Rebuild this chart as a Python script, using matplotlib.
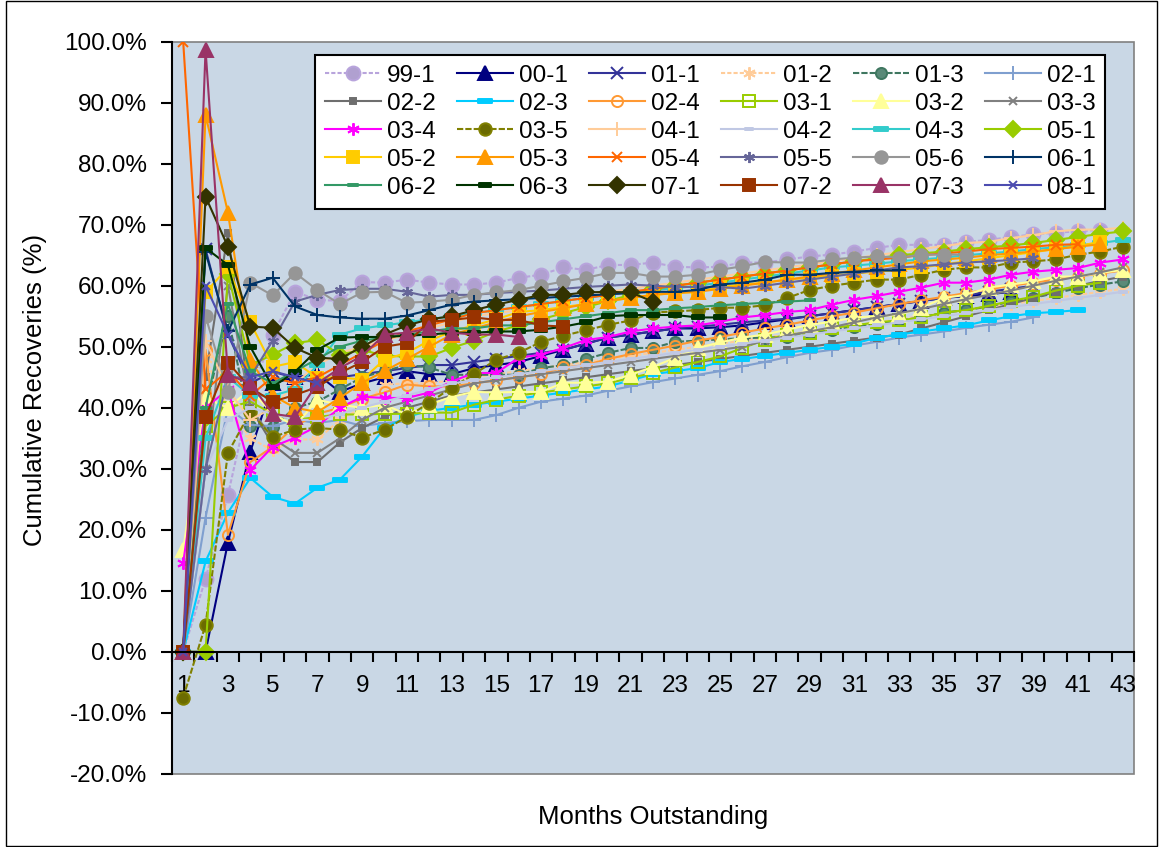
import numpy as np
import matplotlib
matplotlib.use('Agg')
import matplotlib.pyplot as plt
import matplotlib.patches as mpatches
from matplotlib.path import Path
from matplotlib.ticker import FuncFormatter

plt.rcParams['font.family'] = ['Liberation Sans', 'DejaVu Sans']

# cumulative recoveries (%) by months outstanding, one list per deal
labels = ['99-1', '00-1', '01-1', '01-2', '01-3', '02-1', '02-2', '02-3', '02-4', '03-1',
          '03-2', '03-3', '03-4', '03-5', '04-1', '04-2', '04-3', '05-1', '05-2', '05-3',
          '05-4', '05-5', '05-6', '06-1', '06-2', '06-3', '07-1', '07-2', '07-3', '08-1']

s99_1 = [0, 12, 25.7, 42, 52, 59, 57.7, 57.5, 60.6, 60.5, 61, 60.5, 60.2, 60.2, 60.5, 61.3, 61.8, 63, 62.6, 63.4,
         63.4, 63.8, 63.1, 63, 63.1, 63.8, 63.8, 64.3, 64.8, 65.1, 65.6, 66.2, 66.7, 66.7, 66.7, 67.2, 67.5, 68,
         68.4, 68.7, 68.9, 69.2]
s00_1 = [0, 0, 17.9, 32.8, 44, 45, 45.5, 42.6, 44, 45, 46, 45.5, 45.5, 46.5, 47, 47.5, 48.5, 49.5, 50.5, 51.5,
         52, 52.5, 53, 53, 53.2, 53.5, 54, 54.5, 55, 55.5, 56, 56.5, 57, 57.5, 58, 58.3, 58.6, 59]
s01_1 = [0, 66, 52, 44, 45.9, 44.9, 44.5, 45, 45.5, 46, 46.5, 47, 47, 47.5, 48, 48.5, 49, 49.5, 50.5, 51.5,
         52, 52.5, 53, 53.3, 53.6, 54, 54.3, 54.6, 55, 55.5, 56, 56.5, 57, 57.5, 58, 58.5, 59, 59.5, 60]
s01_2 = [0, 48, 40, 35, 33, 34.8, 34.8, 38, 40, 43.8, 44, 44, 44.5, 45, 45.5, 46, 46.5, 47, 47.5, 48,
         48.5, 49, 49.5, 50, 50.5, 51, 51.5, 52, 52.5, 53, 53.5, 54, 54.5, 55, 55.5, 56, 56.5, 57, 57.5, 58,
         58.5, 59, 59.5]
s01_3 = [0, 40, 55, 37, 36.9, 40, 41, 43, 45, 46, 47, 46.6, 45.4, 45.4, 45.4, 45.4, 46.5, 47, 48, 49,
         49.8, 49.8, 50.8, 51, 51.2, 51.4, 51.5, 51.6, 52.3, 52.8, 53.3, 53.8, 54.3, 54.8, 55.6, 56, 56.6, 57.4,
         58, 58.8, 59.6, 60.2, 60.7]
s02_1 = [0, 22, 40, 37.2, 37, 38, 37.5, 38, 37, 37.5, 37.8, 38, 38, 38, 38.8, 40, 41, 41.5, 42, 42.8,
         43.5, 44.2, 44.8, 45.4, 46, 46.8, 47.5, 48.3, 49, 49.5, 50.2, 50.8, 51.5, 52, 52.5, 53.1, 53.6, 54.1, 54.8]
s02_2 = [0, 45, 68.7, 40, 34, 31.1, 31.1, 34.3, 36.7, 38.5, 40, 41, 42, 42.5, 43, 43.5, 44, 44.5, 45, 45.5,
         46, 46.5, 47, 47.5, 48, 48.5, 49, 49.5, 50, 50.5, 51, 51.5, 52, 53, 54, 55, 56, 57, 58, 59,
         60, 60.8, 61.5]
s02_3 = [0, 14.8, 22.8, 28.5, 25.4, 24.3, 26.9, 28.2, 32, 36.7, 38.5, 39.5, 40, 40.5, 41, 41.5, 42, 42.5, 43, 43.5,
         44.5, 45.5, 46, 46.5, 47.5, 48, 48.5, 49, 49.5, 50, 50.5, 51.5, 52, 52.5, 53, 53.5, 54.3, 55, 55.5, 55.7, 56]
s02_4 = [0, 49.5, 19.2, 31.1, 33.6, 37, 39, 40, 41.5, 42.5, 43.8, 43.5, 43.5, 44, 44.5, 45, 45.5, 46.6, 47, 48,
         48.8, 49.5, 50.2, 51, 51.6, 52.3, 53, 53.6, 54.3, 55, 55.6, 56.3, 57, 57.6, 58.2, 58.8, 59.4, 60, 60.5, 61,
         61.5, 62, 62.5]
s03_1 = [0, 37, 40, 41, 39, 38, 38.5, 38.9, 38.9, 39, 39, 39.2, 39.2, 40.5, 41.3, 42, 42.5, 43, 43.5, 44,
         44.9, 45.7, 46.6, 47.5, 48.4, 49.8, 51.1, 52, 52.3, 53.1, 53.5, 54, 54.3, 54.8, 55.6, 56, 56.7, 57.5,
         58.2, 59.2, 60, 60.5]
s03_2 = [16.7, 41.6, 40, 43, 39, 37, 41.3, 40.5, 40, 40.5, 38.9, 40.5, 41.8, 42.6, 42.5, 42.6, 42.6, 44.1, 44.1, 44.3,
         45.4, 46.7, 48.2, 49.8, 50.7, 51.5, 52, 52.8, 53.6, 54.1, 54.8, 55, 55.2, 56.4, 58, 58.5, 59.7, 60.2,
         60.7, 61.5, 61.5, 62.1, 62.6]
s03_3 = [0, 30, 60, 40, 35, 32.6, 32.6, 35, 38, 40, 41, 42, 43, 44, 44.5, 45, 45.5, 46, 46.5, 47,
         47.5, 48, 48.5, 49, 49.5, 50, 51, 51.8, 52.5, 53.2, 54, 54.8, 55.5, 56.2, 57, 57.8, 58.5, 59.2, 60, 60.8,
         61.5, 62.2, 63]
s03_4 = [14.6, 40, 43, 29.8, 33.6, 35.1, 37, 40, 41.8, 41.6, 41.6, 42.5, 44.3, 45.7, 45.7, 48.2, 48.7, 49.8, 51.1, 51.6,
         52.5, 53, 53.3, 53.5, 54.1, 54.8, 55.2, 55.7, 56, 56.9, 57.7, 58.3, 59, 59.7, 60.5, 60.5, 61, 61.8,
         62.3, 62.6, 62.9, 63.8, 64.3]
s03_5 = [-7.5, 4.4, 32.6, 39.3, 35.2, 36.4, 36.7, 36.4, 35.1, 36.4, 38.5, 40.8, 43.3, 45.5, 47.9, 49, 50.8, 51.8, 52.7, 53.6,
         54.3, 55.6, 55.8, 56, 56.4, 56.4, 56.8, 58, 59.3, 60, 60.5, 61, 61, 61.8, 62.6, 63, 63, 63.8, 64, 64.3,
         65.1, 65.6, 66.4]
s04_1 = [0, 51, 43, 38, 40, 44, 47, 49, 50, 51, 52, 53, 54, 55, 55.5, 56, 57, 57.5, 58, 59,
         59.5, 60, 60.5, 61, 61.5, 62, 62.5, 63, 63.5, 64, 64.5, 65, 65.5, 66, 66.5, 67, 67.2, 67.8, 68.3, 68.9,
         69.2, 69.2, 69.5]
s04_2 = [0, 30, 38, 40, 39, 38, 38, 39, 40, 41, 42, 43, 44, 44.5, 45, 45.5, 46, 46.5, 47, 47.5,
         48, 48.5, 49, 49.5, 50, 50.5, 51, 51.5, 52, 52.5, 53, 53.5, 54, 54.5, 55, 55.5, 56, 56.5, 57, 57.5,
         58, 58.5, 59]
s04_3 = [0, 35, 45, 42, 42, 43, 47, 52, 53, 53.5, 54, 54.5, 55, 55.5, 56, 56.5, 57, 57.5, 58, 58.5,
         59, 59.3, 59.6, 60, 60.5, 61, 61.5, 62, 62.5, 63, 63.3, 63.6, 64, 64.3, 64.6, 65, 65.3, 65.6, 66, 66.3,
         66.6, 67, 67.5]
s05_1 = [0, 0, 62, 47, 48.7, 50.6, 51.1, 48.7, 49.5, 48.5, 48.4, 48.4, 49.8, 51, 52.5, 53.5, 54.5, 55.5, 56.5, 57.5,
         58.5, 59.5, 60, 60.5, 61, 61.5, 62, 62.5, 63, 63.5, 64, 64.5, 65, 65.3, 65.6, 66, 66.3, 66.6, 67, 67.5,
         68, 68.5, 68.9]
s05_2 = [0, 58.9, 63, 54, 46.7, 47.5, 44.9, 45, 44.6, 47.9, 49, 51, 52.5, 53.5, 54.5, 55.7, 56, 56.5, 57, 57.5,
         58, 58.5, 58.8, 59, 59.8, 60.2, 60.5, 61, 61.3, 61.6, 62, 62.3, 62.6, 63, 63.5, 64, 64.5, 65, 65.5, 66,
         66.5, 67.2]
s05_3 = [0, 88, 72, 47.9, 42, 40, 39.3, 41.6, 44.1, 46, 48, 50, 52, 53, 54, 55, 55.7, 56.3, 57, 57.5,
         58, 58.5, 58.8, 59, 59.5, 60, 60.5, 61, 61.5, 62, 62.5, 63, 63.5, 64, 64.3, 64.6, 65, 65.3, 65.6, 66,
         66.4, 66.8]
s05_4 = [100, 43, 46, 42, 45, 44, 45, 47, 49, 51, 52.5, 53.5, 54.5, 55.5, 56, 56.5, 57, 57.5, 58, 58.5,
         59, 59.5, 60, 60.5, 61, 61.5, 62, 62.5, 63, 63.5, 64, 64.3, 64.6, 65, 65.3, 65.6, 66, 66.2, 66.4, 66.7,
         66.8]
s05_5 = [0, 30, 45, 45, 51, 57.4, 58.5, 59.3, 59.5, 59.5, 59, 58.2, 58.5, 58.5, 58.8, 59, 59.2, 59.5, 59.8, 60,
         60.2, 60, 59.8, 59.8, 59.8, 59.5, 60, 60.5, 61, 61.5, 62, 62.5, 63, 63.2, 63.5, 63.8, 64, 64.2, 64.5]
s05_6 = [0, 55, 42.6, 60.5, 58.4, 62.1, 59.3, 57, 58.9, 59, 57.2, 57.4, 57.7, 58.5, 58.9, 59.3, 60, 60.7, 61.3, 62.1,
         62.1, 61.5, 61.5, 61.8, 62.6, 63.2, 63.9, 63.8, 63.8, 64.3, 64.6, 64.8, 64.6, 65.1, 65.1, 65.1]
s06_1 = [0, 65.5, 52.5, 60.2, 61.3, 56.6, 55.2, 54.8, 54.6, 54.6, 55.1, 56, 56.9, 57.4, 57.6, 57.8, 58, 58.2, 58.4, 58.6,
         58.8, 59, 59, 59.3, 60.2, 60.5, 61, 61.8, 61.8, 62.1, 62.3, 62.5, 62.5]
s06_2 = [0, 40, 57, 46, 44, 46, 48, 50, 51, 51.5, 52, 52.5, 53, 53, 53.5, 53.5, 54, 54.5, 55, 55.5,
         56, 56, 56.3, 56.5, 56.8, 57, 57.2, 57.4, 57.6]
s06_3 = [0, 66.2, 63.4, 50, 43.4, 45.9, 49.5, 51.5, 51.6, 51.6, 51.8, 52, 52.3, 52.3, 52.5, 52.5, 52.8, 53.3, 54, 55,
         55.2, 55.2, 55.2, 54.8, 54.8]
s07_1 = [0, 74.6, 66.4, 53.3, 53.1, 49.8, 48.2, 48, 50, 52, 53.5, 54.5, 55, 56, 56.9, 57.7, 58.5, 58.5, 58.9, 59,
         58.9, 57.4]
s07_2 = [0, 38.5, 47.4, 43.3, 41, 42.1, 43.4, 45.7, 47.5, 50, 50.6, 54.1, 54.4, 54.8, 54.4, 54.4, 53.5, 53.3]
s07_3 = [0, 98.7, 45.4, 44, 39, 38.5, 44, 46.5, 48.5, 52, 52.3, 53, 52.3, 52, 52, 51.6]
s08_1 = [0, 60, 52, 45, 46, 45, 44]

series = [s99_1, s00_1, s01_1, s01_2, s01_3, s02_1, s02_2, s02_3, s02_4, s03_1,
          s03_2, s03_3, s03_4, s03_5, s04_1, s04_2, s04_3, s05_1, s05_2, s05_3,
          s05_4, s05_5, s05_6, s06_1, s06_2, s06_3, s07_1, s07_2, s07_3, s08_1]

month_ticks = list(range(1, 44, 2))
y_ticks = [-20, -10, 0, 10, 20, 30, 40, 50, 60, 70, 80, 90, 100]

# styling (Excel default palette)
bar = Path([(-1, -0.3), (1, -0.3), (1, 0.3), (-1, 0.3), (-1, -0.3)],
           [Path.MOVETO, Path.LINETO, Path.LINETO, Path.LINETO, Path.CLOSEPOLY])
star = (6, 2, 0)
styles = [
    # color, marker, size, facecolor, linestyle
    ('#B8A4DC', 'o', 10, '#B0A0D0', (0, (2, 1))),
    ('#000080', '^', 10, '#000080', '-'),
    ('#333399', 'x', 8, '#333399', '-'),
    ('#FFCC99', star, 9, '#FFCC99', (0, (2, 1))),
    ('#3F7760', 'o', 8, '#5A8A78', (0, (3, 1))),
    ('#7F9FCF', '+', 10, '#7F9FCF', '-'),
    ('#6E6E6E', 's', 4.5, '#6E6E6E', '-'),
    ('#00CCFF', bar, 10, '#00CCFF', '-'),
    ('#FF9933', 'o', 8, 'none', '-'),
    ('#99CC00', 's', 8, 'none', '-'),
    ('#FFFF99', '^', 10, '#FFFF99', '-'),
    ('#808080', 'x', 5.5, '#808080', '-'),
    ('#FF00FF', star, 9, '#FF00FF', '-'),
    ('#808000', 'o', 9, '#6B6B00', (0, (3, 1))),
    ('#FFCC99', '+', 10, '#FFCC99', '-'),
    ('#C0C8E4', bar, 6, '#C0C8E4', '-'),
    ('#33CCCC', bar, 10, '#33CCCC', '-'),
    ('#99CC00', 'D', 8, '#99CC00', '-'),
    ('#FFCC00', 's', 9, '#FFCC00', '-'),
    ('#FF9900', '^', 10, '#FF9900', '-'),
    ('#FF6600', 'x', 7, '#FF6600', '-'),
    ('#666699', star, 8, '#666699', '-'),
    ('#969696', 'o', 9, '#969696', '-'),
    ('#003366', '+', 10, '#003366', '-'),
    ('#339966', bar, 7, '#339966', '-'),
    ('#003300', bar, 9, '#003300', '-'),
    ('#333300', 'D', 8, '#333300', '-'),
    ('#993300', 's', 9, '#993300', '-'),
    ('#993366', '^', 10, '#993366', '-'),
    ('#4C4CB0', 'x', 6, '#4C4CB0', '-'),
]

fig = plt.figure(figsize=(11.59, 8.47), dpi=100)
ax = fig.add_axes([0.1484, 0.0864, 0.83, 0.8644])
ax.set_facecolor('#C9D7E5')
ax.patch.set_edgecolor('#808080')
ax.patch.set_linewidth(1.2)

handles = []
for vals, lab, (col, mk, ms, fc, ls) in zip(series, labels, styles):
    months = np.arange(1, len(vals) + 1)
    h, = ax.plot(months, vals, color=col, linestyle=ls, linewidth=1.5,
                 marker=mk, markersize=ms, markerfacecolor=fc,
                 markeredgecolor=col, markeredgewidth=1.4, label=lab)
    handles.append(h)

ax.set_xlim(0.5, 43.5)
ax.set_ylim(-20, 100)

for side in ['top', 'right']:
    ax.spines[side].set_visible(False)
ax.spines['left'].set_linewidth(1.5)
ax.spines['bottom'].set_position(('data', 0))
ax.spines['bottom'].set_linewidth(1.5)

ax.set_yticks(y_ticks)
ax.yaxis.set_major_formatter(FuncFormatter(lambda v, p: f'{v:.1f}%'))
ax.tick_params(axis='y', direction='out', length=8, width=1.5, pad=10, labelsize=17.5)

ax.set_xticks(np.arange(0.5, 44, 1), labels=[])
ax.tick_params(axis='x', which='major', direction='out', length=7, width=1.5)
ax.set_xticks(month_ticks, minor=True)
ax.set_xticklabels([str(m) for m in month_ticks], minor=True)
ax.tick_params(axis='x', which='minor', length=0, pad=17, labelsize=17.5)

ax.set_ylabel('Cumulative Recoveries (%)', fontsize=18.5)
ax.yaxis.set_label_coords(-0.13, 0.525)
ax.set_xlabel('Months Outstanding', fontsize=18.5)
ax.xaxis.set_label_coords(0.5, -0.043)

# legend laid out row by row like the original
order = [r * 6 + c for c in range(6) for r in range(5)]
leg = ax.legend([handles[i] for i in order], [labels[i] for i in order],
                ncol=6, loc='upper left', bbox_to_anchor=(0.1487, 0.776, 0.8213, 0.206),
                mode='expand', fontsize=17.5, frameon=True, fancybox=False,
                framealpha=1, edgecolor='black', borderpad=0.4, labelspacing=0.25,
                handlelength=2.3, handletextpad=0.25, borderaxespad=0, numpoints=1)
leg.get_frame().set_linewidth(1.5)

fig.patches.append(mpatches.Rectangle((0.005, 0.001), 0.993, 0.998, transform=fig.transFigure,
                                      fill=False, edgecolor='black', linewidth=1))

fig.savefig('out.png', dpi=100)
